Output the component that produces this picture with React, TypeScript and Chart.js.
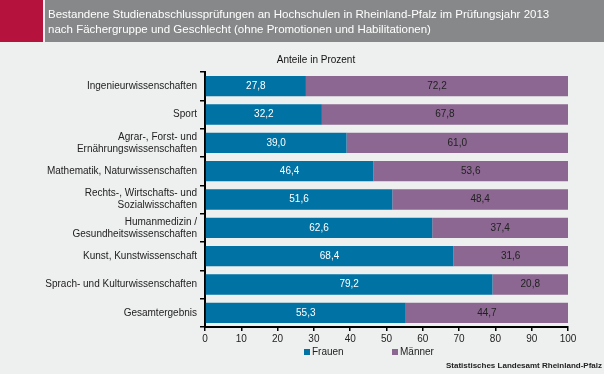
import React, { useEffect, useRef } from "react";
import { Chart, registerables } from "chart.js";

Chart.register(...registerables);

const title1 = "Bestandene Studienabschlussprüfungen an Hochschulen in Rheinland-Pfalz im Prüfungsjahr 2013";
const title2 = "nach Fächergruppe und Geschlecht (ohne Promotionen und Habilitationen)";
const unitLabel = "Anteile in Prozent";
const sourceLabel = "Statistisches Landesamt Rheinland-Pfalz";

const categories: (string | string[])[] = [
  "Ingenieurwissenschaften",
  "Sport",
  ["Agrar-, Forst- und", "Ernährungswissenschaften"],
  "Mathematik, Naturwissenschaften",
  ["Rechts-, Wirtschafts- und", "Sozialwisschaften"],
  ["Humanmedizin /", "Gesundheitswissenschaften"],
  "Kunst, Kunstwissenschaft",
  "Sprach- und Kulturwissenschaften",
  "Gesamtergebnis",
];
const frauen = [27.8, 32.2, 39.0, 46.4, 51.6, 62.6, 68.4, 79.2, 55.3];
const maenner = [72.2, 67.8, 61.0, 53.6, 48.4, 37.4, 31.6, 20.8, 44.7];
const seriesNames = ["Frauen", "Männer"];

const BLUE = "#0072a3";
const PURPLE = "#8b6792";
const BG = "#eef0ef";
const FONT = "'Liberation Sans', Arial, sans-serif";

const fmt = (v: number) => v.toFixed(1).replace(".", ",");

const decorPlugin = {
  id: "decor",
  beforeDraw(chart: any) {
    const ctx = chart.ctx;
    ctx.save();
    ctx.fillStyle = BG;
    ctx.fillRect(0, 0, chart.width, chart.height);
    ctx.fillStyle = "#b5123e";
    ctx.fillRect(0, 0, 43, 42);
    ctx.fillStyle = "#878889";
    ctx.fillRect(45, 0, chart.width - 45, 42);
    ctx.fillStyle = "#ffffff";
    ctx.font = `11.5px ${FONT}`;
    ctx.textBaseline = "middle";
    ctx.textAlign = "left";
    ctx.fillText(title1, 48, 15);
    ctx.fillText(title2, 48, 30);
    ctx.fillStyle = "#111";
    ctx.font = `10px ${FONT}`;
    ctx.textAlign = "center";
    ctx.fillText(unitLabel, 316, 60);
    ctx.restore();
  },
  afterDraw(chart: any) {
    const ctx = chart.ctx;
    ctx.save();
    ctx.font = `10px ${FONT}`;
    ctx.textAlign = "center";
    ctx.textBaseline = "middle";
    chart.data.datasets.forEach((ds: any, di: number) => {
      const meta = chart.getDatasetMeta(di);
      meta.data.forEach((bar: any, i: number) => {
        const x = (bar.x + bar.base) / 2;
        ctx.fillStyle = di === 0 ? "#ffffff" : "#222222";
        ctx.fillText(fmt(ds.data[i]), x, bar.y);
      });
    });
    // legend
    const legendY = 352;
    const items = [
      { x: 304, color: BLUE, text: seriesNames[0] },
      { x: 392, color: PURPLE, text: seriesNames[1] },
    ];
    ctx.textAlign = "left";
    items.forEach((it) => {
      ctx.fillStyle = it.color;
      ctx.fillRect(it.x, legendY - 3, 6, 6);
      ctx.fillStyle = "#222";
      ctx.fillText(it.text, it.x + 8, legendY);
    });
    ctx.font = `bold 8px ${FONT}`;
    ctx.textAlign = "right";
    ctx.fillStyle = "#222";
    ctx.fillText(sourceLabel, 602, 366);
    ctx.restore();
  },
};

export default function App() {
  const ref = useRef<HTMLCanvasElement>(null);
  useEffect(() => {
    document.body.style.margin = "0";
    const chart = new Chart(ref.current!, {
      type: "bar",
      data: {
        labels: categories,
        datasets: [
          { label: seriesNames[0], data: frauen, backgroundColor: BLUE, barPercentage: 0.72, categoryPercentage: 1 },
          { label: seriesNames[1], data: maenner, backgroundColor: PURPLE, barPercentage: 0.72, categoryPercentage: 1 },
        ],
      },
      options: {
        indexAxis: "y",
        responsive: false,
        animation: false,
        layout: { padding: { top: 72, right: 36, left: 0, bottom: 0 } },
        plugins: { legend: { display: false }, tooltip: { enabled: false } },
        scales: {
          x: {
            stacked: true,
            min: 0,
            max: 100,
            ticks: { stepSize: 10, color: "#222", font: { family: FONT, size: 10 }, padding: 2 },
            grid: { drawOnChartArea: false, drawTicks: true, tickLength: 4, color: "#000", lineWidth: 1.5 },
            border: { color: "#000", width: 2 },
            afterFit: (s: any) => { s.height = 47; },
          },
          y: {
            stacked: true,
            ticks: { color: "#222", font: { family: FONT, size: 10 }, padding: 3, autoSkip: false },
            grid: { drawOnChartArea: false, drawTicks: true, tickLength: 5, color: "#000", offset: true, lineWidth: 1.5 },
            border: { color: "#000", width: 2 },
            afterFit: (s: any) => { s.width = 205; },
          },
        },
      },
      plugins: [decorPlugin],
    });
    return () => chart.destroy();
  }, []);
  return <canvas ref={ref} width={604} height={374} style={{ display: "block" }} />;
}
